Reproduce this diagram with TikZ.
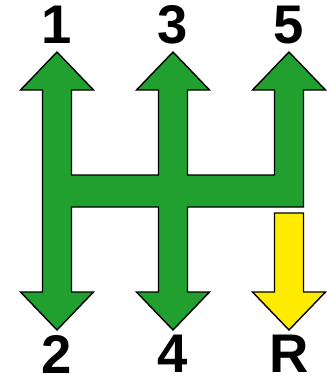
\documentclass[tikz,border=0pt]{standalone}
\usepackage{fontspec}
\setmainfont{Liberation Sans}
\usepackage{xcolor}
\usetikzlibrary{positioning}

\definecolor{gearGreen}{RGB}{33,160,48}
\definecolor{gearYellow}{RGB}{255,235,0}

\begin{document}
\begin{tikzpicture}[
x=0.02cm, y=-0.02cm,
gate/.style={draw=black, line width=0.8pt, line join=miter},
lbl/.style={inner sep=0pt, font=\bfseries\fontsize{31}{33}\selectfont}
]
\useasboundingbox (0,0) rectangle (327,380);

% shift pattern
\draw[gate, fill=gearGreen]
  (57,52) -- (93.5,90) -- (71.5,90) -- (71.5,175) -- (158.5,175) -- (158.5,90)
  -- (136.5,90) -- (173,52) -- (209.5,90) -- (187.5,90) -- (187.5,175)
  -- (274.5,175) -- (274.5,90) -- (252.5,90) -- (289,52) -- (325.5,90)
  -- (303.5,90) -- (303.5,207) -- (187.5,207) -- (187.5,292) -- (209.5,292)
  -- (173,330) -- (136.5,292) -- (158.5,292) -- (158.5,207) -- (71.5,207)
  -- (71.5,292) -- (93.5,292) -- (57,330) -- (20.5,292) -- (42.5,292)
  -- (42.5,90) -- (20.5,90) -- cycle;

% reverse
\draw[gate, fill=gearYellow]
  (274.5,213) -- (303.5,213) -- (303.5,292) -- (325.5,292) -- (289,330)
  -- (252.5,292) -- (274.5,292) -- cycle;

% tips
\coordinate (t1) at (57,52);
\coordinate (t3) at (173,52);
\coordinate (t5) at (289,52);
\coordinate (t2) at (57,330);
\coordinate (t4) at (173,330);
\coordinate (tr) at (289,330);

% gear labels
\node[lbl, above=1.6mm of t1] (g1) {1};
\node[lbl, above=1.6mm of t3] (g3) {3};
\node[lbl, above=1.6mm of t5] (g5) {5};
\node[lbl, below=1.0mm of t2] (g2) {2};
\node[lbl, below=1.0mm of t4] (g4) {4};
\node[lbl, below=1.0mm of tr] (gr) {R};

\end{tikzpicture}
\end{document}
